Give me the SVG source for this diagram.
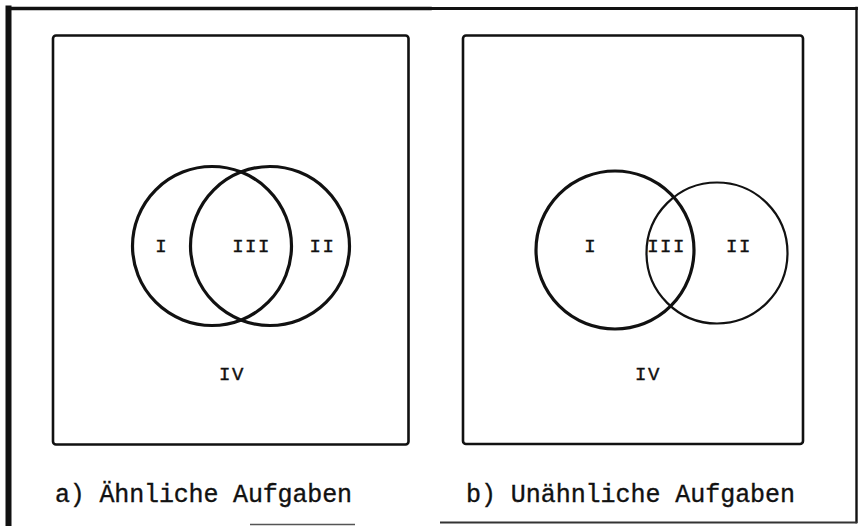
<svg xmlns="http://www.w3.org/2000/svg" width="860" height="526" viewBox="0 0 860 526">
<style>
.frame{fill:none;stroke:#111;stroke-linecap:square}
.box{fill:none;stroke:#111;stroke-width:2.6}
.c{fill:none;stroke:#111}
.lbl{font-family:"Liberation Mono","Courier New",monospace;font-size:19px;fill:#111;stroke:#111;stroke-width:0.4;text-anchor:middle}
.cap{font-family:"Liberation Mono","Courier New",monospace;font-size:25px;fill:#111;stroke:#111;stroke-width:0.35}
</style>
<rect width="860" height="526" fill="#fff"/>
<g id="frame">
<line class="frame" x1="8.5" y1="8.5" x2="8.5" y2="526" stroke-width="6"/>
<line class="frame" x1="8" y1="8.5" x2="430" y2="8.5" stroke-width="3.5"/>
<line class="frame" x1="430" y1="8.5" x2="856.5" y2="8.5" stroke-width="2.8"/>
<line class="frame" x1="856.5" y1="8" x2="856.5" y2="522" stroke-width="2.4"/>
<line x1="440" y1="522.5" x2="857" y2="522.5" stroke="#333" stroke-width="2"/>
<line x1="250" y1="524.5" x2="355" y2="524.5" stroke="#555" stroke-width="1.5"/>
</g>
<g id="panel-a">
<rect class="box" x="53" y="35.5" width="355.5" height="409" rx="3"/>
<circle class="c" cx="212" cy="246" r="79.5" stroke-width="3.2"/>
<circle class="c" cx="270" cy="246" r="79.5" stroke-width="3.2"/>
<text class="lbl" x="161" y="252">I</text>
<text class="lbl" x="251.5" y="252" letter-spacing="1.5">III</text>
<text class="lbl" x="322.5" y="252" letter-spacing="1.5">II</text>
<text class="lbl" x="232" y="380" letter-spacing="1.5">IV</text>
<text class="cap" x="55" y="502" textLength="297" lengthAdjust="spacing">a) Ähnliche Aufgaben</text>
</g>
<g id="panel-b">
<rect class="box" x="463" y="35.5" width="340" height="408.5" rx="3"/>
<circle class="c" cx="615" cy="250" r="79" stroke-width="3.2"/>
<circle class="c" cx="717" cy="253" r="70.5" stroke-width="2.2"/>
<text class="lbl" x="590" y="252">I</text>
<text class="lbl" x="666.5" y="252" letter-spacing="1.5">III</text>
<text class="lbl" x="739" y="252" letter-spacing="1.5">II</text>
<text class="lbl" x="648" y="380" letter-spacing="1.5">IV</text>
<text class="cap" x="466" y="502" textLength="329" lengthAdjust="spacing">b) Unähnliche Aufgaben</text>
</g>
</svg>
